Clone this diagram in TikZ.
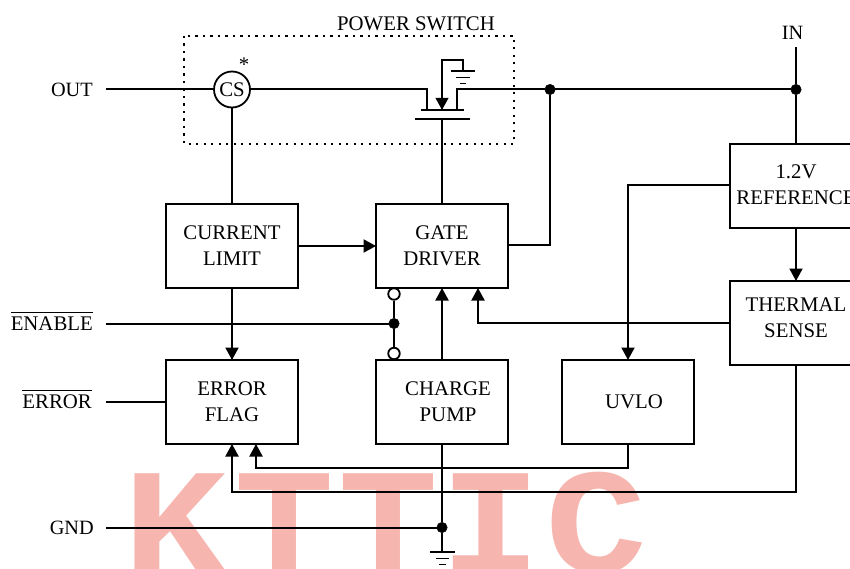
\documentclass[tikz,border=0pt]{standalone}
\usepackage{graphicx}
\usepackage{fontspec}
\setmainfont{Liberation Serif}
\newfontfamily\wmfont{Liberation Mono}
\usetikzlibrary{arrows.meta,calc}
\definecolor{wm}{HTML}{F6B6AF}
\newcommand\ovl[1]{\leavevmode\vbox{\hrule height 1.4pt \kern 3pt \hbox{#1}}}
\newcommand\wmk[2]{\scalebox{#1}[1]{#2}}
\tikzset{
  x=1pt,y=-1pt,
  wire/.style={line width=2pt,line cap=butt},
  arr/.style={wire,-{Triangle[length=12.5pt,width=13pt]}},
  blk/.style={draw,line width=2pt,outer sep=0pt,minimum width=132pt,minimum height=84pt,align=center,inner sep=0pt,font=\fontsize{20.8}{26}\selectfont,anchor=north west},
  lbl/.style={font=\fontsize{20.8}{24}\selectfont,inner sep=0pt},
  side/.style={font=\fontsize{20.3}{24}\selectfont,inner sep=0pt},
  dot/.style={circle,fill=black,draw=black,minimum size=10.5pt,inner sep=0pt},
  odot/.style={circle,fill=white,draw=black,line width=1.8pt,minimum size=11.5pt,inner sep=0pt},
  wmark/.style={font=\wmfont\bfseries\fontsize{150}{150}\selectfont,text=wm,inner sep=0pt,anchor=base west},
  gnd/.style={line width=1.9pt}
}
\begin{document}
\begin{tikzpicture}
\useasboundingbox (0,0) rectangle (850,569);
\clip (0,0) rectangle (850,569);
\fill[white] (0,0) rectangle (850,569);
% watermark
\node[wmark] (w1) at (123.3,572) {\wmk{1.15}{K}};
\node[wmark] (w2) at (234.5,572) {\wmk{1.11}{T}};
\node[wmark] (w3) at (338,572) {\wmk{1.11}{T}};
\node[wmark] (w4) at (440.7,572) {\wmk{1.12}{I}};
\node[wmark] (w5) at (545,572) {\wmk{1.13}{C}};
% blocks
\node[blk] (cl) at (166,204) {CURRENT\\LIMIT};
\node[blk] (gd) at (376,204) {GATE\\DRIVER};
\node[blk] (ef) at (166,360) {ERROR\\FLAG};
\node[blk] (cp) at (376,360) {\hspace*{12pt}CHARGE\\\hspace*{12pt}PUMP};
\node[blk] (uv) at (562,360) {\hspace*{12pt}UVLO};
\node[blk] (ref) at (730,144) {1.2V\\REFERENCE\rule[-3pt]{0pt}{0pt}};
\node[blk] (ts) at (730,281) {THERMAL\\SENSE\rule[-10pt]{0pt}{0pt}};
% power switch box
\draw[line width=2.2pt,dash pattern=on 2.2pt off 5.3pt] (184,36) rectangle (514,144);
\node[lbl] (ps) at (416,24) {POWER SWITCH};
% labels
\node[side,anchor=east] (out) at (93,90) {OUT};
\node[side] (in) at (792.5,33) {IN};
\node[lbl,anchor=base east] (en) at (93,330) {\ovl{ENABLE}};
\node[lbl,anchor=base east] (er) at (92,408) {\ovl{ERROR}};
\node[side,anchor=east] (gn) at (94,528) {GND};
% CS sensor
\node[circle,draw,line width=1.8pt,fill=white,minimum size=36pt,inner sep=0pt,font=\fontsize{20.8}{24}\selectfont] (cs) at (232,89.5) {CS};
\node[font=\fontsize{20.8}{24}\selectfont,inner sep=0pt] (star) at (244,65) {*};
% coordinates
\coordinate (outs) at (106,89.5);
\coordinate (ins) at (796,47);
\node[dot] (j1) at (550,89.5) {};
\node[dot] (j2) at (796,89.5) {};
\node[dot] (j3) at (394,323.5) {};
\node[dot] (j4) at (442,527.5) {};
\node[odot] (o1) at (394,294) {};
\node[odot] (o2) at (394,353.5) {};
\coordinate (ens) at (106,323.5);
\coordinate (ers) at (106,401.5);
\coordinate (gns) at (106,527.5);
% MOSFET
\coordinate (s) at (427,89.5);
\coordinate (d) at (457,89.5);
\coordinate (cha) at (421,110);
\coordinate (chb) at (464,110);
\coordinate (chm) at (442,110);
\coordinate (gta) at (415,119);
\coordinate (gtb) at (470,119);
\coordinate (gtm) at (442,119);
\coordinate (bt) at (442,60);
\coordinate (bg) at (463,60);
\coordinate (bg2) at (463,71);
\draw[wire] (cha) -- (chb);
\draw[wire] (gta) -- (gtb);
\draw[wire] (cs.east) -- (s) -- (s |- cha);
\draw[wire] (d |- cha) -- (d) -- (j1) -- (j2);
\draw[wire] (ins) -- (j2) -- (ref.north -| j2);
\draw[wire,-{Triangle[length=12pt,width=12.5pt]}] (bg2) -- (bg) -- (bt) -- (chm);
\draw[gnd] (451,71) -- (475,71) (456,77.5) -- (470,77.5) (460,83.5) -- (466,83.5);
% wires
\draw[wire] (outs) -- (cs.west);
\draw[wire] (cs.south) -- (cl.north -| cs);
\draw[wire] (gd.north -| gtm) -- (gtm);
\draw[wire] (j1) |- ($(gd.east)+(0,-1)$);
\draw[arr] (cl.east) -- (gd.west);
\draw[arr] (cl.south -| 232,0) -- (ef.north -| 232,0);
\draw[arr] (cp.north -| 442,0) -- (gd.south -| 442,0);
\draw[wire] (ens) -- (j3);
\draw[wire] (o1) -- (j3) -- (o2);
\draw[wire] (ers) -- (ef.west |- ers);
\draw[arr] (ts.west) -| (478,288);
\draw[arr] (ref.south -| 796,0) -- (ts.north -| 796,0);
\draw[arr] (ref.west |- 0,185) -| (628,360);
\draw[wire] (cp.south -| 442,0) -- (j4);
\draw[wire] (gns) -- (j4);
\coordinate (gg) at (442,552);
\draw[wire] (j4) -- (gg);
\draw[gnd] (430,552) -- (455,552) (436,558.5) -- (449,558.5) (439,564.5) -- (446,564.5);
\draw[arr] (628,444) |- (256,467.5) -- (256,444);
\draw[arr] (796,365) |- (232,491.5) -- (232,444);
\end{tikzpicture}
\end{document}
